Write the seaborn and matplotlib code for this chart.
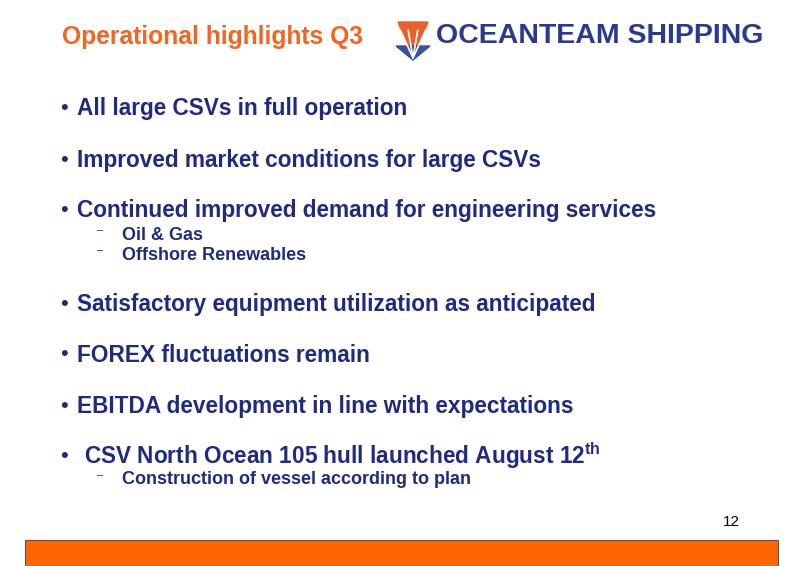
import matplotlib
matplotlib.use("Agg")
import matplotlib.pyplot as plt
import seaborn as sns
from matplotlib.patches import Rectangle, Polygon

sns.set_theme(style="white")
plt.rcParams['font.family'] = ['Liberation Sans', 'DejaVu Sans']

title = "Operational highlights Q3"
company = "OCEANTEAM SHIPPING"
bullets = [
    ("All large CSVs in full operation", []),
    ("Improved market conditions for large CSVs", []),
    ("Continued improved demand for engineering services", ["Oil & Gas", "Offshore Renewables"]),
    ("Satisfactory equipment utilization as anticipated", []),
    ("FOREX fluctuations remain", []),
    ("EBITDA development in line with expectations", []),
    ("CSV North Ocean 105 hull launched August 12$^{\\mathregular{th}}$", ["Construction of vessel according to plan"]),
]
page = "12"

NAVY = "#1F2A80"
ORANGE = "#F26522"
W, H = 800, 566
fig = plt.figure(figsize=(8, 5.66), dpi=100)
ax = fig.add_axes([0, 0, 1, 1])
ax.set_xlim(0, W); ax.set_ylim(H, 0); ax.axis("off")

ax.text(62, 37, title, color=ORANGE, fontsize=17.7, fontweight="bold", va="center")
# logo
ax.add_patch(Polygon([[398, 22], [428, 22], [413, 60]], closed=True, color="#E8602C"))
for dx in (-8, -3, 3, 8):
    ax.plot([413, 413 + dx * 1.6], [58, 30], color="white", lw=1.2)
ax.add_patch(Polygon([[396, 46], [430, 46], [413, 60]], closed=True, color="#3A4FA0"))
ax.text(436, 36, company, color="#2B3990", fontsize=20.5, fontweight="bold", va="center")

ys = [108, 160, 211, 304, 355, 406, 456]
for (txt, subs), y in zip(bullets, ys):
    x0 = 60
    ax.text(x0, y, "•", color=NAVY, fontsize=16, va="center")
    off = 84 if "North" in txt else 77
    ax.text(off, y, txt, color=NAVY, fontsize=16.3, fontweight="bold", va="center")
    for i, s in enumerate(subs):
        sy = y + 24 + i * 20
        ax.text(97, sy - 5, "–", color=NAVY, fontsize=8, va="center")
        ax.text(122, sy, s, color=NAVY, fontsize=13, fontweight="bold", va="center")

ax.text(740, 522, page, color="black", fontsize=11, ha="right", va="center")
ax.add_patch(Rectangle((25, 540), 753, 26, facecolor="#FF6600", edgecolor="#555555", lw=0.8))
fig.savefig("out.png", dpi=100)
